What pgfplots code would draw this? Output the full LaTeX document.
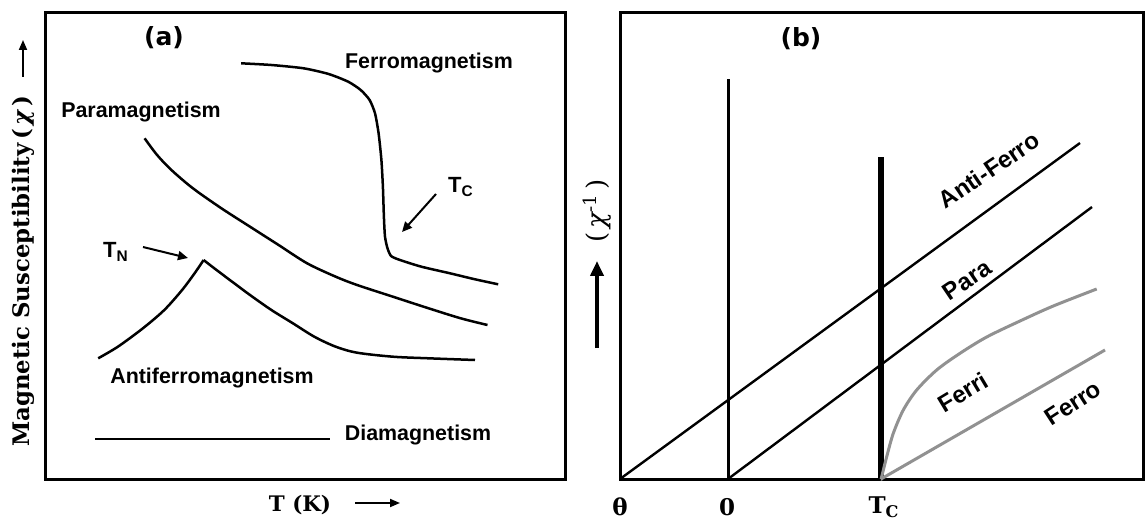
\documentclass[border=0pt]{standalone}
\usepackage{fontspec}
\setmainfont{Liberation Sans}
\newfontfamily\dserif{DejaVu Serif}
\newfontfamily\dsans{DejaVu Sans}
\usepackage{pgfplots}
\pgfplotsset{compat=1.18}
\usetikzlibrary{arrows.meta}
\begin{document}
\begin{tikzpicture}[x=0.5pt,y=0.5pt]
\useasboundingbox (0,0) rectangle (1145,525);
% ---------------- panel (a)
\begin{axis}[
  scale only axis, width=259.5pt, height=233pt,
  at={(46,46)}, anchor=south west,
  xmin=46, xmax=565, ymin=46, ymax=512,
  axis line style={line width=1.5pt},
  xtick=\empty, ytick=\empty, clip=false,
  every axis plot/.append style={line width=1.25pt, black, no marks},
]
% Ferromagnetism
\addplot[smooth, tension=0.4] coordinates {
(241.1,461.7) (271.4,460) (303.6,456.7) (328.6,451) (348.2,443.3) (360.7,435)
(369.6,425) (375,411.7) (378.6,391.7) (381.4,365) (382.9,338.3) (383.9,308.3)
(385,288.3) (387.5,276.7) (391.1,269) (400,265) (421.4,258.3) (450,251.7)
(475,245.7) (498.2,240.7)};
% Paramagnetism
\addplot[smooth] coordinates {
(144.6,386.7) (157.1,370) (171.4,355) (192.9,336.7) (221.4,316.7) (250,298.3)
(278.6,280) (307.1,261.7) (335.7,248.3) (357.1,240) (392.9,228.3) (428.6,216.7)
(460.7,206.7) (487.5,200)};
% Antiferromagnetism (below and above T_N)
\addplot[smooth] coordinates {
(98.2,166.7) (117.9,178.3) (142.9,196.7) (164.3,215) (182.1,235) (194.6,251.7) (203.6,265)};
\addplot[smooth] coordinates {
(203.6,265) (214.3,256.7) (232.1,243.3) (250,230) (271.4,215) (292.9,201.7)
(314.3,188.3) (335.7,178.3) (357.1,172.3) (392.9,168.3) (428.6,166.7) (475,165)};
% Diamagnetism
\addplot[black] coordinates {(95,86) (330,86)};
% labels
\node[font=\dsans\bfseries\fontsize{12.5}{14}\selectfont] at (axis cs:164,487) {(a)};
\node[font=\bfseries\fontsize{10.7}{12}\selectfont] at (axis cs:429,462) {Ferromagnetism};
\node[font=\bfseries\fontsize{10.7}{12}\selectfont] at (axis cs:141,413) {Paramagnetism};
\node[font=\bfseries\fontsize{10.7}{12}\selectfont] at (axis cs:212,147) {Antiferromagnetism};
\node[font=\bfseries\fontsize{10.7}{12}\selectfont] at (axis cs:418,90) {Diamagnetism};
\node[font=\bfseries\fontsize{11}{12}\selectfont] at (axis cs:461,338) {T\textsubscript{C}};
\node[font=\bfseries\fontsize{11}{12}\selectfont] at (axis cs:116,273) {T\textsubscript{N}};
\draw[line width=1pt, -{Triangle[length=5pt,width=4.5pt]}] (axis cs:436,331) -- (axis cs:402,293);
\draw[line width=1pt, -{Triangle[length=5pt,width=4.5pt]}] (axis cs:143,278) -- (axis cs:188,267);
% axis labels
\node[rotate=90, font=\dserif\bfseries\fontsize{11.4}{13}\selectfont] at (axis cs:23,254) {Magnetic Susceptibility\,(\,{\itshape χ}\,)};
\draw[line width=0.9pt, -{Triangle[length=5pt,width=4pt]}] (axis cs:23,448) -- (axis cs:23,485);
\node[font=\dserif\bfseries\fontsize{10.7}{12}\selectfont] at (axis cs:300,20) {T (K)};
\draw[line width=0.9pt, -{Triangle[length=5pt,width=4pt]}] (axis cs:355,22) -- (axis cs:400,22);
\end{axis}
% ---------------- panel (b)
\begin{axis}[
  scale only axis, width=261.75pt, height=233pt,
  at={(620,46)}, anchor=south west,
  xmin=620, xmax=1143.5, ymin=46, ymax=512,
  axis line style={line width=1.5pt},
  ytick=\empty, clip=false,
  xtick={620,727,884}, xticklabels={θ,0,T\textsubscript{C}},
  major tick length=0pt,
  xticklabel style={font=\dserif\bfseries\fontsize{11.5}{13}\selectfont, anchor=center, yshift=-14pt},
  every axis plot/.append style={black, no marks},
]
\addplot[line width=1.5pt] coordinates {(728,46) (728,446)};
\addplot[line width=2.6pt] coordinates {(881,46) (881,368)};
\addplot[line width=1.2pt] coordinates {(620,46) (1080,382)};
\addplot[line width=1.2pt] coordinates {(728,46) (1092,318)};
\addplot[smooth, tension=0.5, line width=1.5pt, color={rgb,255:red,145;green,145;blue,145}] coordinates {
(881,46) (881.7,48.3) (886.7,68.3) (893.3,91.7) (903.3,115) (916.7,135) (936.7,155)
(960,171.7) (986.7,188) (1020,204) (1053.3,219) (1096.7,236)};
\addplot[line width=1.5pt, color={rgb,255:red,145;green,145;blue,145}] coordinates {(881,46) (1105,175)};
\node[font=\dsans\bfseries\fontsize{12.5}{14}\selectfont] at (axis cs:801,486) {(b)};
\node[font=\bfseries\fontsize{12}{14}\selectfont, rotate=34] at (axis cs:989,355) {Anti-Ferro};
\node[font=\bfseries\fontsize{12}{14}\selectfont, rotate=34] at (axis cs:967,245) {Para};
\node[font=\bfseries\fontsize{12}{14}\selectfont, rotate=31] at (axis cs:963,133) {Ferri};
\node[font=\bfseries\fontsize{12}{14}\selectfont, rotate=33] at (axis cs:1073,122) {Ferro};
\node[rotate=90, font=\dserif\fontsize{13}{15}\selectfont] at (axis cs:597,314) {(\,{\itshape χ}\textsuperscript{-1}\,)};
\draw[line width=2.2pt, -{Triangle[length=7.5pt,width=6.5pt]}] (axis cs:597,177) -- (axis cs:597,264);
\end{axis}
\end{tikzpicture}
\end{document}
